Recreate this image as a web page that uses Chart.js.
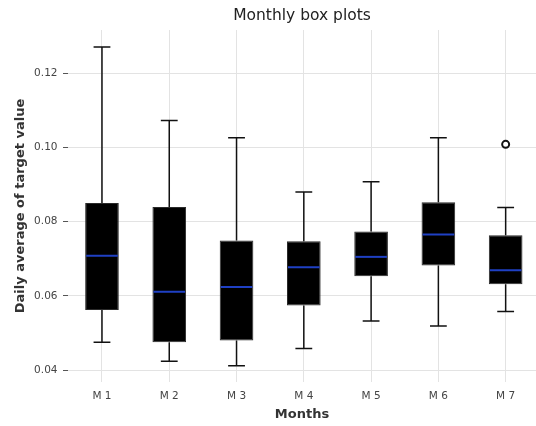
<!DOCTYPE html>
<html>
<head>
<meta charset="utf-8">
<script src="https://cdn.jsdelivr.net/npm/chart.js@4/dist/chart.umd.min.js"></script>
<style>
    html, body { margin: 0; padding: 0; overflow: hidden; background: #fff; }
</style>
</head>
<body>
<canvas id="boxChart" width="536" height="426"></canvas>
<script>
const months = ["M 1", "M 2", "M 3", "M 4", "M 5", "M 6", "M 7"];
const whiskerLow = [0.0475, 0.0424, 0.0412, 0.0458, 0.0532, 0.0519, 0.0558];
const q1 = [0.0562, 0.0475, 0.0480, 0.0574, 0.0653, 0.0682, 0.0631];
const median = [0.0708, 0.0611, 0.0624, 0.0677, 0.0705, 0.0765, 0.0669];
const q3 = [0.0850, 0.0839, 0.0749, 0.0747, 0.0773, 0.0852, 0.0763];
const whiskerHigh = [0.1270, 0.1072, 0.1026, 0.0880, 0.0907, 0.1026, 0.0838];
const outliers = [null, null, null, null, null, null, 0.1008];
const yTicks = [0.04, 0.06, 0.08, 0.10, 0.12];

// month i sits at x = i + 1 on a linear axis
const xPos = months.map((m, i) => i + 1);

// whiskers, caps and medians drawn on top of the floating bars
const boxExtras = {
    id: "boxExtras",
    afterDatasetsDraw(chart) {
        const {ctx, scales: {x, y}} = chart;
        const bars = chart.getDatasetMeta(0).data;
        ctx.save();
        months.forEach((m, i) => {
            const cx = x.getPixelForValue(xPos[i]);
            const half = bars[i].width / 2;
            const cap = half / 2;

            ctx.strokeStyle = "#111";
            ctx.lineWidth = 1.5;
            ctx.beginPath();
            ctx.moveTo(cx, y.getPixelForValue(q3[i]));
            ctx.lineTo(cx, y.getPixelForValue(whiskerHigh[i]));
            ctx.moveTo(cx, y.getPixelForValue(q1[i]));
            ctx.lineTo(cx, y.getPixelForValue(whiskerLow[i]));
            ctx.moveTo(cx - cap, y.getPixelForValue(whiskerHigh[i]));
            ctx.lineTo(cx + cap, y.getPixelForValue(whiskerHigh[i]));
            ctx.moveTo(cx - cap, y.getPixelForValue(whiskerLow[i]));
            ctx.lineTo(cx + cap, y.getPixelForValue(whiskerLow[i]));
            ctx.stroke();

            ctx.strokeStyle = "#1f40c4";
            ctx.lineWidth = 2;
            ctx.beginPath();
            ctx.moveTo(cx - half + 1, y.getPixelForValue(median[i]));
            ctx.lineTo(cx + half - 1, y.getPixelForValue(median[i]));
            ctx.stroke();
        });
        ctx.restore();
    }
};

new Chart(document.getElementById("boxChart"), {
    type: "bar",
    data: {
        datasets: [
            {
                label: "box",
                data: months.map((m, i) => ({x: xPos[i], y: [q1[i], q3[i]]})),
                backgroundColor: "#000",
                borderColor: "#2a2a2a",
                borderWidth: 1,
                borderSkipped: false,
                barPercentage: 0.5,
                categoryPercentage: 1
            },
            {
                type: "line",
                label: "outliers",
                data: outliers.map((v, i) => ({x: xPos[i], y: v})).filter(p => p.y !== null),
                showLine: false,
                pointRadius: 3.5,
                pointBorderWidth: 2,
                pointBackgroundColor: "#fff",
                pointBorderColor: "#111"
            }
        ]
    },
    options: {
        responsive: false,
        animation: false,
        devicePixelRatio: 1,
        layout: {padding: 0, autoPadding: false},
        plugins: {
            legend: {display: false},
            tooltip: {enabled: false},
            title: {
                display: true,
                text: "Monthly box plots",
                fullSize: false,
                color: "#222",
                font: {family: "DejaVu Sans", size: 15.5, weight: "normal"},
                padding: {top: 7, bottom: 4.4}
            }
        },
        scales: {
            x: {
                type: "linear",
                min: 0.495,
                max: 7.451,
                offset: false,
                afterBuildTicks(scale) { scale.ticks = xPos.map(v => ({value: v})); },
                grid: {offset: false, color: "#e3e3e3", drawTicks: false},
                border: {display: false},
                ticks: {
                    color: "#444",
                    padding: 8,
                    font: {family: "DejaVu Sans", size: 10.5},
                    callback: v => months[v - 1]
                },
                title: {
                    display: true,
                    text: "Months",
                    color: "#333",
                    font: {family: "DejaVu Sans", size: 13, weight: "bold"},
                    padding: {top: 0, bottom: 4}
                },
                afterFit(scale) { scale.height = 44; }
            },
            y: {
                min: 0.0368,
                max: 0.1316,
                afterBuildTicks(scale) { scale.ticks = yTicks.map(v => ({value: v})); },
                grid: {color: "#e3e3e3", tickColor: "#555", tickLength: 5},
                border: {display: false},
                ticks: {
                    color: "#444",
                    padding: 5.5,
                    font: {family: "DejaVu Sans", size: 10.5},
                    callback: v => v.toFixed(2)
                },
                title: {
                    display: true,
                    text: "Daily average of target value",
                    color: "#333",
                    font: {family: "DejaVu Sans", size: 13, weight: "bold"},
                    padding: {top: 13, bottom: 0}
                },
                afterFit(scale) { scale.width = 68; }
            }
        }
    },
    plugins: [boxExtras]
});
</script>
</body>
</html>
